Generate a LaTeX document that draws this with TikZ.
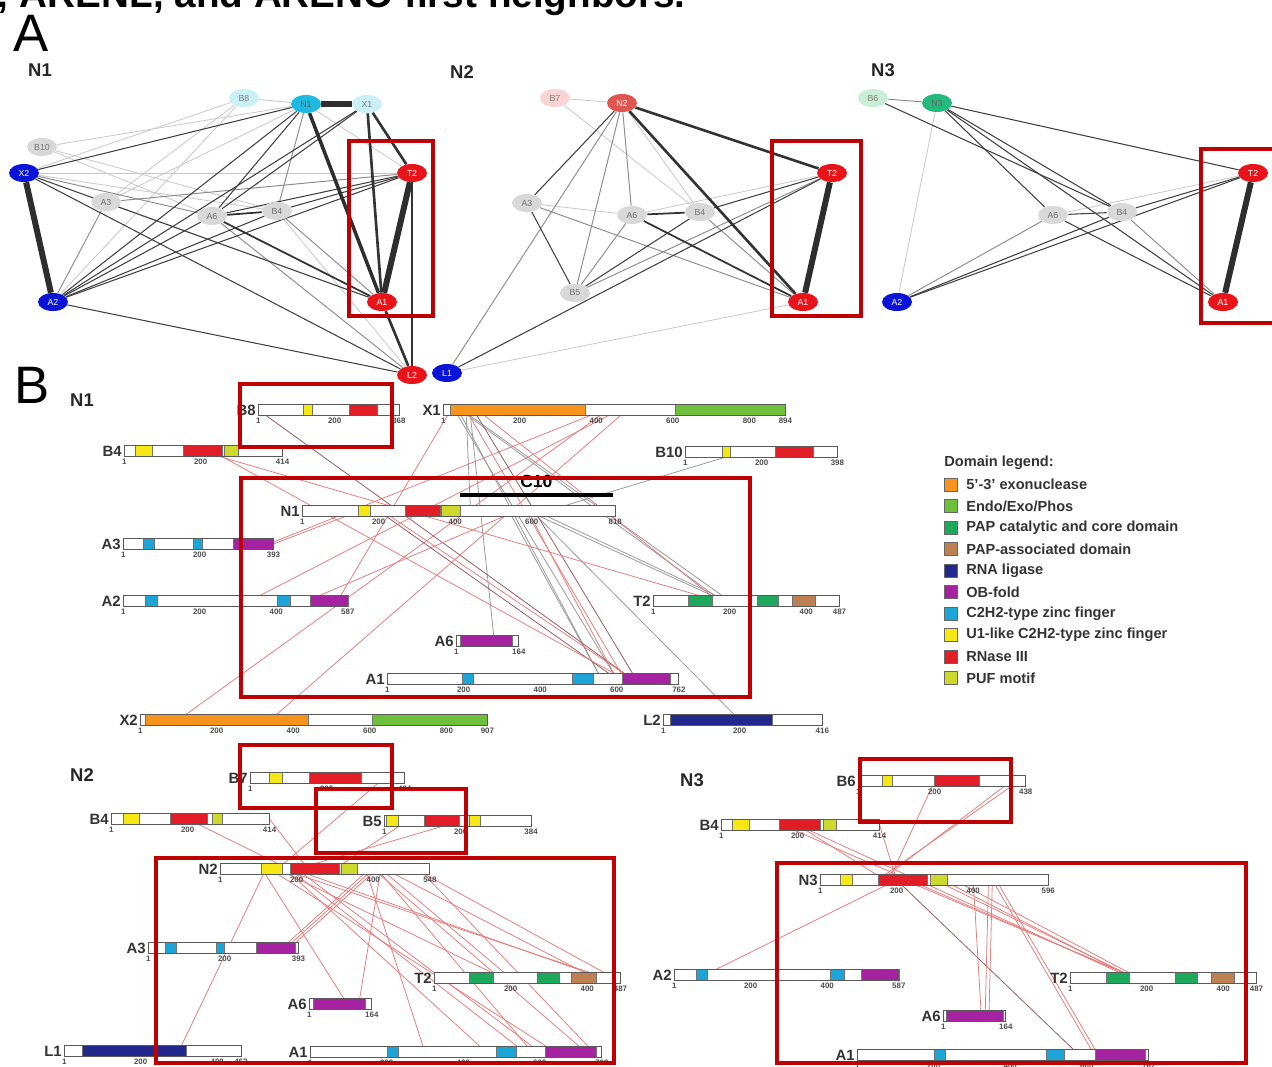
\documentclass[tikz,border=0pt]{standalone}
\usepackage{fontspec}
\setmainfont{Liberation Sans}
\usetikzlibrary{calc, shapes.geometric}
\pgfdeclarelayer{bg}
\pgfsetlayers{bg,main}

% domain colours
\definecolor{exoc}{RGB}{247,148,29}
\definecolor{endoc}{RGB}{110,192,60}
\definecolor{papc}{RGB}{30,168,92}
\definecolor{pasc}{RGB}{188,128,82}
\definecolor{ligc}{RGB}{35,40,140}
\definecolor{obc}{RGB}{165,35,160}
\definecolor{znc}{RGB}{30,165,215}
\definecolor{u1c}{RGB}{245,232,20}
\definecolor{rnc}{RGB}{225,30,40}
\definecolor{pufc}{RGB}{205,218,45}
% network colours
\definecolor{boxred}{RGB}{192,0,0}
\definecolor{nblue}{RGB}{10,20,215}
\definecolor{nred}{RGB}{232,20,26}
\definecolor{ncyan}{RGB}{30,185,225}
\definecolor{pcyan}{RGB}{200,240,245}
\definecolor{ngray}{RGB}{216,216,216}
\definecolor{nsalmon}{RGB}{225,85,80}
\definecolor{ppink}{RGB}{248,212,212}
\definecolor{ngreen}{RGB}{35,185,125}
\definecolor{pgreen}{RGB}{200,238,215}
\definecolor{lnkred}{RGB}{230,125,125}
\definecolor{lnkbrn}{RGB}{150,92,96}

\newcommand{\rs}{0.383}
% bar: name, label, length, domains, ticks
\newcommand{\protbar}[5]{%
  \node[barlbl] (#1-lbl) at ($(#1)+(-1,0)$) {#2};
  \fill[white] ($(#1)+(0,-5.5)$) rectangle ($(#1)+(#3*\rs,5.5)$);
  \foreach \da/\db/\dc in {#4}
    \filldraw[dombox, fill=\dc] ($(#1)+(\da*\rs,-5.5)$) rectangle ($(#1)+(\db*\rs,5.5)$);
  \draw[barbox] ($(#1)+(0,-5.5)$) rectangle ($(#1)+(#3*\rs,5.5)$);
  \foreach \tk in {#5}
    \node[tickno] (#1-t\tk) at ($(#1)+(\tk*\rs,11)$) {\tk};
}
\newcommand{\plink}[5][rl]{\draw[#1] ($(#2)+(#3*\rs,0)$) -- ($(#4)+(#5*\rs,0)$);}

\begin{document}
\begin{tikzpicture}[x=0.02cm, y=-0.02cm,
  gnode/.style={ellipse, minimum width=0.6cm, minimum height=0.36cm, inner sep=0pt, font=\fontsize{5}{5}\selectfont},
  gry/.style={gnode, fill=ngray, text=black!55},
  blu/.style={gnode, fill=nblue, text=white},
  rdn/.style={gnode, fill=nred, text=white},
  cyn/.style={gnode, fill=ncyan, text=black!60},
  pcy/.style={gnode, fill=pcyan, text=black!50},
  slm/.style={gnode, fill=nsalmon, text=white},
  ppk/.style={gnode, fill=ppink, text=black!50},
  grn/.style={gnode, fill=ngreen, text=black!60},
  pgr/.style={gnode, fill=pgreen, text=black!50},
  e1/.style={draw=black!22, line width=0.45pt},
  e2/.style={draw=black!45, line width=0.55pt},
  e3/.style={draw=black!75, line width=0.6pt},
  e4/.style={draw=black!80, line width=1pt},
  e5/.style={draw=black!80, line width=1.5pt},
  e6/.style={draw=black!82, line width=2pt},
  e7/.style={draw=black!82, line width=3.4pt},
  redframe/.style={draw=boxred, line width=2.3pt},
  barlbl/.style={anchor=east, inner sep=0.5pt, font=\bfseries\fontsize{8.5}{9}\selectfont, text=black!80},
  tickno/.style={inner sep=0pt, font=\bfseries\fontsize{4.5}{5}\selectfont, text=black!70},
  barbox/.style={draw=black!65, line width=0.45pt},
  dombox/.style={draw=black!55, line width=0.3pt},
  rl/.style={draw=lnkred, line width=0.45pt},
  gl/.style={draw=black!40, line width=0.45pt},
  bl/.style={draw=lnkbrn, line width=0.45pt},
  panel/.style={font=\fontsize{30}{30}\selectfont},
  netlbl/.style={font=\bfseries\fontsize{10.5}{11}\selectfont, text=black!85},
  leg/.style={anchor=west, inner sep=0pt, font=\bfseries\fontsize{8.3}{9}\selectfont, text=black!80}]
\useasboundingbox (0,0) rectangle (1272,1066);

\begin{scope}
\clip (0,0) rectangle (1272,1066);
\node[anchor=base west, inner sep=0pt, font=\bfseries\fontsize{22}{22}\selectfont] (ttl) at (-4,7) {; ARENL, and ARENO first neighbors.};
\end{scope}

% ---------- A
\node[panel] (pa) at (31,33) {A};
\node[netlbl] (lN1) at (40,70) {N1};
\node[netlbl] (lN2) at (462,72) {N2};
\node[netlbl] (lN3) at (883,70) {N3};

% N1 network
\node[pcy] (aB8) at (244,98) {B8};
\node[cyn] (aN1) at (306,104) {N1};
\node[pcy] (aX1) at (367,104) {X1};
\node[gry] (aB10) at (42,147) {B10};
\node[blu] (aX2) at (24,173) {X2};
\node[rdn] (aT2) at (412,173) {T2};
\node[gry] (aA3) at (106,202) {A3};
\node[gry] (aA6) at (212,216) {A6};
\node[gry] (aB4) at (277,211) {B4};
\node[blu] (aA2) at (53,302) {A2};
\node[rdn] (aA1) at (382,302) {A1};
\node[rdn] (aL2) at (412,375) {L2};

% N2 network
\node[ppk] (bB7) at (555,98) {B7};
\node[slm] (bN2) at (622,103) {N2};
\node[gry] (bA3) at (527,203) {A3};
\node[gry] (bA6) at (632,215) {A6};
\node[gry] (bB4) at (700,212) {B4};
\node[gry] (bB5) at (575,293) {B5};
\node[rdn] (bT2) at (832,173) {T2};
\node[rdn] (bA1) at (803,302) {A1};
\node[blu] (bL1) at (447,373) {L1};

% N3 network
\node[pgr] (cB6) at (873,98) {B6};
\node[grn] (cN3) at (937,103) {N3};
\node[gry] (cA6) at (1053,215) {A6};
\node[gry] (cB4) at (1122,212) {B4};
\node[rdn] (cT2) at (1253,173) {T2};
\node[blu] (cA2) at (897,302) {A2};
\node[rdn] (cA1) at (1223,302) {A1};

\begin{pgfonlayer}{bg}
\foreach \u/\v in {aB8/aN1, aB8/aX2, aB8/aA2, aB10/aN1, aB10/aB4, aX2/aT2, aX2/aB4, aN1/aT2, aA3/aN1, aA3/aA1, aB4/aL2, aB10/aA6, aA3/aB8}
  \draw[e1] (\u) -- (\v);
\foreach \u/\v in {aA3/aA2, aB4/aA1, aB4/aN1, aA6/aL2, aX2/aA6, aA3/aT2}
  \draw[e2] (\u) -- (\v);
\foreach \u/\v in {aX2/aN1, aX2/aA1, aX2/aL2, aA2/aN1, aA2/aX1, aA2/aA6, aA2/aB4, aA2/aT2, aA2/aL2, aN1/aA6, aX1/aA6, aB4/aT2, aA6/aT2}
  \draw[e3] (\u) -- (\v);
\foreach \u/\v in {aA6/aB4, aA6/aA1, aT2/aL2}
  \draw[e4] (\u) -- (\v);
\foreach \u/\v in {aX1/aA1, aX1/aT2, aA1/aL2}
  \draw[e5] (\u) -- (\v);
\draw[e6] (aN1) -- (aA1);
\foreach \u/\v in {aN1/aX1, aX2/aA2, aT2/aA1}
  \draw[e7] (\u) -- (\v);

\foreach \u/\v in {bB7/bN2, bB7/bB4, bL1/bA1, bA3/bA6, bA6/bT2, bN2/bB4}
  \draw[e1] (\u) -- (\v);
\foreach \u/\v in {bN2/bA6, bN2/bB5, bN2/bL1, bA6/bB5, bA3/bA1, bB5/bT2, bB4/bA1}
  \draw[e2] (\u) -- (\v);
\foreach \u/\v in {bN2/bA3, bA3/bB5, bB4/bB5, bB4/bT2, bL1/bT2}
  \draw[e3] (\u) -- (\v);
\foreach \u/\v in {bA6/bB4, bA6/bA1}
  \draw[e4] (\u) -- (\v);
\foreach \u/\v in {bN2/bT2, bN2/bA1}
  \draw[e5] (\u) -- (\v);
\draw[e7] (bT2) -- (bA1);

\foreach \u/\v in {cN3/cA2, cA6/cT2}
  \draw[e1] (\u) -- (\v);
\foreach \u/\v in {cB6/cN3, cB4/cA1, cA2/cA6}
  \draw[e2] (\u) -- (\v);
\foreach \u/\v in {cB6/cB4, cN3/cT2, cN3/cA6, cN3/cB4, cN3/cA1, cA6/cB4, cA6/cA1, cA2/cB4, cA2/cT2, cB4/cT2}
  \draw[e3] (\u) -- (\v);
\draw[e7] (cT2) -- (cA1);
\end{pgfonlayer}

\draw[redframe] (349,141) rectangle (433,316);
\draw[redframe] (772,141) rectangle (861,316);
\draw[redframe] (1201,149) rectangle (1285,323);

% ---------- B
\node[panel] (pb) at (32,385) {B};
\node[netlbl] (sN1) at (82,400) {N1};
\node[netlbl] (sN2) at (82,775) {N2};
\node[netlbl] (sN3) at (692,780) {N3};

\foreach \n/\x/\y in {pB8/258/410, pX1/443/410, pB4a/124/451, pB10/685/452, pN1/302/511,
  pA3a/123/544, pA2a/123/601, pT2a/653/601, pA6a/456/641, pA1a/387/679, pX2/140/720, pL2/663/720,
  qB7/250/778, qB4/111/819, qB5/384/821, qN2/220/869, qA3/148/948, qT2/434/978, qA6/309/1004,
  qL1/64/1051, qA1/310/1052,
  rB6/858/781, rB4/721/825, rN3/820/880, rA2/674/975, rT2/1070/978, rA6/943/1016, rA1/857/1055}
  \coordinate (\n) at (\x,\y);

\begin{pgfonlayer}{bg}
% N1 links
\plink[gl]{pX1}{30}{pA1a}{600}
\plink[gl]{pX1}{40}{pA1a}{560}
\plink[gl]{pX1}{50}{pT2a}{200}
\plink[gl]{pX1}{45}{pT2a}{180}
\plink[gl]{pX1}{70}{pA6a}{100}
\plink[gl]{pX1}{60}{pN1}{440}
\plink[gl]{pN1}{600}{pL2}{200}
\plink[gl]{pN1}{590}{pT2a}{185}
\plink[gl]{pN1}{610}{pT2a}{195}
\plink[gl]{pB10}{150}{pN1}{640}
\plink[gl]{pN1}{540}{pA1a}{560}
\plink[bl]{pB8}{1}{pA1a}{640}
\plink{pX1}{60}{pA1a}{620}
\plink{pX1}{20}{pA2a}{560}
\plink{pX1}{430}{pX2}{100}
\plink{pX1}{480}{pX2}{340}
\plink{pX1}{420}{pA3a}{380}
\plink{pX1}{460}{pA2a}{330}
\plink[bl]{pX1}{80}{pA1a}{650}
\plink{pX1}{90}{pT2a}{170}
\plink[bl]{pN1}{200}{pA1a}{600}
\plink{pN1}{210}{pA1a}{640}
\plink{pA3a}{393}{pN1}{150}
\plink{pB4a}{200}{pT2a}{170}
\plink{pB4a}{230}{pA1a}{620}
\plink{pN1}{560}{pA2a}{480}
\plink{pN1}{590}{pA1a}{600}
% N2 links
\plink{qB4}{200}{qN2}{180}
\plink{qB4}{414}{qN2}{230}
\plink{qB7}{350}{qN2}{150}
\plink{qB5}{200}{qN2}{200}
\plink{qB5}{60}{qN2}{300}
\plink{qN2}{120}{qL1}{300}
\plink{qN2}{110}{qA6}{100}
\plink{qN2}{400}{qA3}{360}
\plink{qN2}{410}{qA3}{370}
\plink{qN2}{390}{qA3}{350}
\plink{qN2}{420}{qA6}{130}
\plink{qN2}{150}{qT2}{180}
\plink{qN2}{160}{qT2}{450}
\plink{qN2}{170}{qA1}{460}
\plink{qN2}{180}{qA1}{560}
\plink{qN2}{200}{qA1}{600}
\plink{qN2}{130}{qA1}{640}
\plink{qN2}{400}{qA1}{720}
\plink{qN2}{420}{qT2}{200}
\plink{qN2}{430}{qT2}{420}
\plink{qN2}{520}{qA1}{740}
\plink{qN2}{510}{qT2}{470}
\plink{qN2}{380}{qA1}{300}
\plink{qN2}{410}{qA1}{580}
\plink{qN2}{190}{qT2}{440}
% N3 links
\plink{rB6}{200}{rN3}{180}
\plink{rB6}{420}{rN3}{150}
\plink{rB6}{400}{rN3}{160}
\plink{rB4}{200}{rN3}{170}
\plink{rB4}{414}{rN3}{200}
\plink{rB4}{200}{rT2}{160}
\plink{rB4}{160}{rT2}{170}
\plink{rN3}{200}{rA2}{80}
\plink[bl]{rN3}{200}{rA1}{580}
\plink{rN3}{400}{rA6}{100}
\plink{rN3}{450}{rA6}{120}
\plink{rN3}{440}{rA6}{110}
\plink{rN3}{450}{rA1}{620}
\plink{rN3}{460}{rA1}{630}
\plink{rN3}{350}{rT2}{180}
\plink{rN3}{300}{rT2}{170}
\plink{rN3}{220}{rT2}{175}
\plink{rN3}{320}{rT2}{165}
\end{pgfonlayer}

% bars, N1
\protbar{pB8}{B8}{368}{118/141/u1c, 237/311/rnc}{1,200,368}
\protbar{pX1}{X1}{894}{18/371/exoc, 606/894/endoc}{1,200,400,600,800,894}
\protbar{pB4a}{B4}{414}{29/73/u1c, 154/256/rnc, 261/298/pufc}{1,200,414}
\protbar{pB10}{B10}{398}{97/118/u1c, 235/334/rnc}{1,200,398}
\protbar{pN1}{N1}{818}{146/177/u1c, 269/360/rnc, 363/413/pufc}{1,200,400,600,818}
\protbar{pA3a}{A3}{393}{52/81/znc, 183/206/znc, 287/393/obc}{1,200,393}
\protbar{pA2a}{A2}{587}{57/89/znc, 402/436/znc, 488/587/obc}{1,200,400,587}
\protbar{pT2a}{T2}{487}{91/154/papc, 272/326/papc, 363/423/pasc}{1,200,400,487}
\protbar{pA6a}{A6}{164}{10/146/obc}{1,164}
\protbar{pA1a}{A1}{762}{196/225/znc, 483/538/znc, 614/739/obc}{1,200,400,600,762}
\protbar{pX2}{X2}{907}{13/439/exoc, 606/907/endoc}{1,200,400,600,800,907}
\protbar{pL2}{L2}{416}{18/285/ligc}{1,200,416}
\draw[line width=2.3pt] ($(pN1)+(413*\rs,-16)$) -- ($(pN1)+(812*\rs,-16)$);
\node[font=\bfseries\fontsize{10}{10}\selectfont] (c10) at ($(pN1)+(612*\rs,-30)$) {C10};

% bars, N2
\protbar{qB7}{B7}{404}{50/84/u1c, 154/290/rnc}{1,200,404}
\protbar{qB4}{B4}{414}{31/73/u1c, 154/251/rnc, 264/290/pufc}{1,200,414}
\protbar{qB5}{B5}{384}{5/37/u1c, 104/196/rnc, 222/251/u1c}{1,200,384}
\protbar{qN2}{N2}{548}{107/162/u1c, 183/311/rnc, 316/358/pufc}{1,200,400,548}
\protbar{qA3}{A3}{393}{44/73/znc, 177/198/znc, 282/384/obc}{1,200,393}
\protbar{qT2}{T2}{487}{91/154/papc, 269/326/papc, 358/423/pasc}{1,200,400,487}
\protbar{qA6}{A6}{164}{10/146/obc}{1,164}
\protbar{qL1}{L1}{462}{47/318/ligc}{1,200,400,462}
\protbar{qA1}{A1}{762}{201/230/znc, 486/538/znc, 614/747/obc}{1,200,400,600,762}

% bars, N3
\protbar{rB6}{B6}{438}{63/89/u1c, 198/316/rnc}{1,200,438}
\protbar{rB4}{B4}{414}{29/73/u1c, 151/258/rnc, 266/300/pufc}{1,200,414}
\protbar{rN3}{N3}{596}{52/84/u1c, 151/279/rnc, 287/332/pufc}{1,200,400,596}
\protbar{rA2}{A2}{587}{57/86/znc, 407/444/znc, 488/587/obc}{1,200,400,587}
\protbar{rT2}{T2}{487}{94/154/papc, 274/332/papc, 368/428/pasc}{1,200,400,487}
\protbar{rA6}{A6}{164}{8/157/obc}{1,164}
\protbar{rA1}{A1}{762}{201/230/znc, 493/540/znc, 621/752/obc}{1,200,400,600,762}

% frames, B
\draw[redframe] (240,384) rectangle (392,447);
\draw[redframe] (241,478) rectangle (750,697);
\draw[redframe] (240,745) rectangle (392,808);
\draw[redframe] (316,789) rectangle (466,853);
\draw[redframe] (156,858) rectangle (614,1063);
\draw[redframe] (860,759) rectangle (1011,822);
\draw[redframe] (777,863) rectangle (1246,1063);

% legend
\node[leg] (leghd) at (944,463) {Domain legend:};
\foreach \c/\t [count=\i] in {exoc/{5'-3' exonuclease}, endoc/{Endo/Exo/Phos}, papc/{PAP catalytic and core domain},
  pasc/{PAP-associated domain}, ligc/{RNA ligase}, obc/{OB-fold}, znc/{C2H2-type zinc finger},
  u1c/{U1-like C2H2-type zinc finger}, rnc/{RNase III}, pufc/{PUF motif}} {
  \node[draw=black!60, line width=0.4pt, fill=\c, minimum size=0.26cm, inner sep=0pt] (sq\i) at (951,463+21.5*\i) {};
  \node[leg] (lg\i) at (966,463+21.5*\i) {\t};
}
\end{tikzpicture}
\end{document}
